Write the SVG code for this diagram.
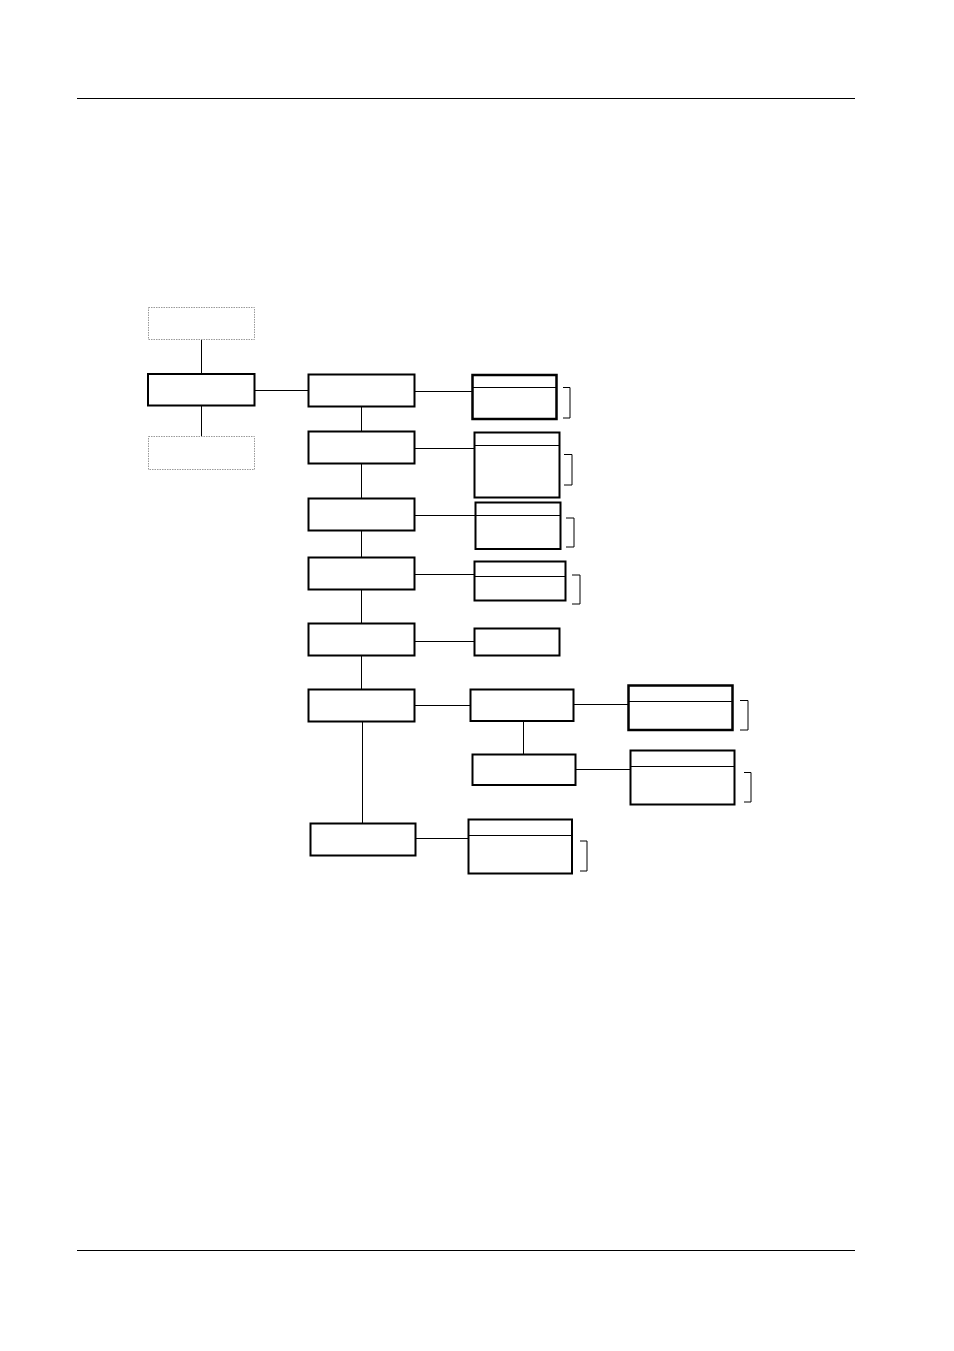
<svg xmlns="http://www.w3.org/2000/svg" width="954" height="1351" viewBox="0 0 954 1351">
<style>
.b{fill:#fff;stroke:#000;stroke-width:2}
.t{fill:#fff;stroke:#000;stroke-width:2.5}
.d{fill:#fff;stroke:#999;stroke-width:1;stroke-dasharray:1.5 1}
.l{fill:none;stroke:#000;stroke-width:1}
.br{fill:none;stroke:#000;stroke-width:1}
</style>
<rect width="954" height="1351" fill="#fff"/>
<line class="l" x1="77" y1="98.5" x2="855" y2="98.5"/>
<line class="l" x1="77" y1="1250.5" x2="855" y2="1250.5"/>
<g id="connectors">
<line class="l" x1="201.5" y1="339" x2="201.5" y2="374"/>
<line class="l" x1="201.5" y1="406" x2="201.5" y2="436"/>
<line class="l" x1="255" y1="390.5" x2="308" y2="390.5"/>
<line class="l" x1="361.5" y1="407" x2="361.5" y2="431"/>
<line class="l" x1="361.5" y1="464" x2="361.5" y2="498"/>
<line class="l" x1="361.5" y1="531" x2="361.5" y2="557"/>
<line class="l" x1="361.5" y1="590" x2="361.5" y2="623"/>
<line class="l" x1="361.5" y1="656" x2="361.5" y2="689"/>
<line class="l" x1="362.5" y1="722" x2="362.5" y2="823"/>
<line class="l" x1="415" y1="391.5" x2="472" y2="391.5"/>
<line class="l" x1="415" y1="448.5" x2="474" y2="448.5"/>
<line class="l" x1="415" y1="515.5" x2="475" y2="515.5"/>
<line class="l" x1="415" y1="574.5" x2="474" y2="574.5"/>
<line class="l" x1="415" y1="641.5" x2="474" y2="641.5"/>
<line class="l" x1="415" y1="705.5" x2="470" y2="705.5"/>
<line class="l" x1="574" y1="704.5" x2="628" y2="704.5"/>
<line class="l" x1="523.5" y1="721" x2="523.5" y2="754"/>
<line class="l" x1="576" y1="769.5" x2="630" y2="769.5"/>
<line class="l" x1="416" y1="838.5" x2="468" y2="838.5"/>
</g>
<g id="n-top"><rect class="d" x="148.5" y="307.5" width="106" height="32"/></g>
<g id="n-main"><rect class="b" x="148" y="374" width="106.5" height="31.5"/></g>
<g id="n-bottom"><rect class="d" x="148.5" y="436.5" width="106" height="33"/></g>
<g id="c1"><rect class="b" x="308.5" y="374.5" width="106" height="32"/></g>
<g id="c2"><rect class="b" x="308.5" y="431.5" width="106" height="32"/></g>
<g id="c3"><rect class="b" x="308.5" y="498.5" width="106" height="32"/></g>
<g id="c4"><rect class="b" x="308.5" y="557.5" width="106" height="32"/></g>
<g id="c5"><rect class="b" x="308.5" y="623.5" width="106" height="32"/></g>
<g id="c6"><rect class="b" x="308.5" y="689.5" width="106" height="32"/></g>
<g id="c7"><rect class="b" x="310.5" y="823.5" width="105" height="32"/></g>
<g id="a"><rect class="t" x="472.5" y="375" width="84" height="44"/><line class="l" x1="472" y1="387.5" x2="557" y2="387.5"/><polyline class="br" points="563,387.5 570,387.5 570,418 563,418"/></g>
<g id="b"><rect class="b" x="474.5" y="432.5" width="85" height="65"/><line class="l" x1="474" y1="445.5" x2="560" y2="445.5"/><polyline class="br" points="564,454.5 572,454.5 572,485 564,485"/></g>
<g id="c"><rect class="b" x="475.5" y="502.5" width="85" height="46.5"/><line class="l" x1="475" y1="515.5" x2="561" y2="515.5"/><polyline class="br" points="566,518 574,518 574,547 566,547"/></g>
<g id="d"><rect class="b" x="474.5" y="561.5" width="91" height="39"/><line class="l" x1="474" y1="576.5" x2="566" y2="576.5"/><polyline class="br" points="572,575 580,575 580,604 572,604"/></g>
<g id="e"><rect class="b" x="474.5" y="628.5" width="85" height="27"/></g>
<g id="f"><rect class="b" x="470.5" y="689.5" width="103" height="31.5"/></g>
<g id="g"><rect class="t" x="628.5" y="685.5" width="104" height="44.5"/><line class="l" x1="628" y1="701.5" x2="733" y2="701.5"/><polyline class="br" points="740,700.5 748,700.5 748,730 740,730"/></g>
<g id="h"><rect class="b" x="472.5" y="754.5" width="103" height="30.5"/></g>
<g id="i"><rect class="b" x="630.5" y="750.5" width="104" height="54"/><line class="l" x1="630" y1="766.5" x2="735" y2="766.5"/><polyline class="br" points="744,772.5 751,772.5 751,802 744,802"/></g>
<g id="j"><rect class="b" x="468.5" y="819.5" width="103.5" height="54"/><line class="l" x1="468" y1="835.5" x2="572" y2="835.5"/><polyline class="br" points="580,841 587,841 587,871 580,871"/></g>
</svg>
